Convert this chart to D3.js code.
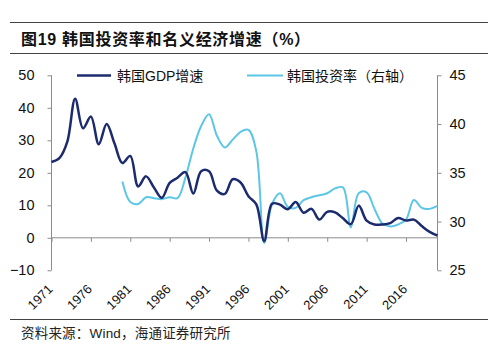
<!DOCTYPE html>
<html><head><meta charset="utf-8">
<script src="https://cdn.jsdelivr.net/npm/d3@7/dist/d3.min.js"></script>
<style>
body{margin:0;background:#fff;}
svg{display:block;}
text{font-family:"Liberation Sans",Arial,"Noto Sans CJK SC",sans-serif;}
.cjk{font-family:"Liberation Sans","Noto Sans CJK SC",sans-serif;}
</style></head>
<body>
<script>
const years = d3.range(1971, 2021);
const gdpGrowth = [23.3,24.5,29.5,42.8,33.7,37.3,28.8,35.0,29.0,23.0,
  25.2,15.8,18.9,15.5,12.3,16.9,18.5,20.2,13.6,20.5,
  20.5,14.5,13.5,18.0,17.0,12.8,10.3,-1.0,10.5,10.2,
  8.8,11.0,7.7,8.9,5.6,8.0,7.8,6.0,4.2,9.9,
  5.3,4.1,4.1,4.5,6.1,5.3,5.6,3.6,1.8,0.7];
const invYears = d3.range(1980, 2021);
const investRate = [34.1,32.0,31.8,32.5,32.4,32.3,32.5,32.4,34.5,37.5,
  39.8,41.0,38.8,37.6,38.4,39.2,39.4,37.2,27.8,31.8,
  32.9,31.5,31.4,32.2,32.5,32.7,32.9,33.4,33.5,29.4,
  32.9,33.0,31.3,29.8,29.5,29.7,30.2,32.2,31.4,31.3,31.6];
const leftTicks = [-10,0,10,20,30,40,50];
const rightTicks = [25,30,35,40,45];
const xLabelYears = [1971,1976,1981,1986,1991,1996,2001,2006,2011,2016];
const title = "图19 韩国投资率和名义经济增速（%）";
const source = "资料来源：Wind，海通证券研究所";
const seriesNames = ["韩国GDP增速","韩国投资率（右轴）"];
const colors = ["#1c2a6e","#5cc6e6"];

const W=500,H=356;
const svg = d3.select("body").append("svg").attr("width",W).attr("height",H);
const axisColor="#8c8c8c";

// title & rules
svg.append("line").attr("x1",10).attr("x2",488).attr("y1",22.5).attr("y2",22.5).attr("stroke","#444").attr("stroke-width",1.2);
svg.append("line").attr("x1",10).attr("x2",488).attr("y1",53.5).attr("y2",53.5).attr("stroke","#444").attr("stroke-width",1.2);
svg.append("text").attr("class","cjk").attr("x",21).attr("y",45).attr("font-size",16).attr("letter-spacing",0.7).attr("font-weight","bold").attr("fill","#111").text(title);
svg.append("line").attr("x1",10).attr("x2",488).attr("y1",319.5).attr("y2",319.5).attr("stroke","#444").attr("stroke-width",1.2);
svg.append("text").attr("class","cjk").attr("x",21).attr("y",338).attr("font-size",13.5).attr("letter-spacing",0.2).attr("fill","#222").text(source);

const x = d3.scalePoint().domain(years).range([51.5,437.5]);
const yL = d3.scaleLinear().domain([-10,50]).range([270.3,75.3]);
const yR = d3.scaleLinear().domain([25,45]).range([270.3,75.3]);

// left axis
const gL = svg.append("g").attr("transform","translate(51.5,0)")
  .call(d3.axisLeft(yL).tickValues(leftTicks).tickSize(4).tickPadding(13).tickFormat(d3.format("d")));
gL.selectAll("path,line").attr("stroke",axisColor);
gL.selectAll("text").attr("font-size",14.5).attr("fill","#111").attr("font-family","Liberation Sans, Arial, sans-serif");
gL.select(".domain").attr("d","M0,"+yL(-10)+"V"+yL(50));

// right axis
const gR = svg.append("g").attr("transform","translate(437.5,0)")
  .call(d3.axisRight(yR).tickValues(rightTicks).tickSize(4).tickPadding(8).tickFormat(d3.format("d")));
gR.selectAll("path,line").attr("stroke",axisColor);
gR.selectAll("text").attr("font-size",14.5).attr("fill","#111").attr("font-family","Liberation Sans, Arial, sans-serif");
gR.select(".domain").attr("d","M0,"+yR(25)+"V"+yR(45));

// x axis at 0
const gX = svg.append("g").attr("transform","translate(0,"+yL(0)+")")
  .call(d3.axisBottom(x).tickValues(xLabelYears).tickSize(4).tickFormat(""));
gX.selectAll("path,line").attr("stroke",axisColor);
gX.select(".domain").attr("d","M"+x(1971)+",0H"+x(2020));

// x labels (low position)
svg.append("g").selectAll("text").data(xLabelYears).join("text")
  .attr("transform",d=>"translate("+(x(d)+2)+",290) rotate(-45)")
  .attr("text-anchor","end").attr("font-size",13).attr("fill","#111")
  .text(d=>d);

// lines
const curve = d3.curveCatmullRom.alpha(0.5);
const lineL = d3.line().x((d,i)=>x(years[i])).y(d=>yL(d)).curve(curve);
const lineR = d3.line().x((d,i)=>x(invYears[i])).y(d=>yR(d)).curve(curve);
svg.append("path").attr("d",lineR(investRate)).attr("fill","none").attr("stroke",colors[1]).attr("stroke-width",2);
svg.append("path").attr("d",lineL(gdpGrowth)).attr("fill","none").attr("stroke",colors[0]).attr("stroke-width",2.5);

// legend
const lg = svg.append("g");
lg.append("line").attr("x1",77).attr("x2",111).attr("y1",75.5).attr("y2",75.5).attr("stroke",colors[0]).attr("stroke-width",2.5);
lg.append("text").attr("class","cjk").attr("x",117).attr("y",80.5).attr("font-size",14).attr("fill","#111").text(seriesNames[0]);
lg.append("line").attr("x1",247).attr("x2",283).attr("y1",75.5).attr("y2",75.5).attr("stroke",colors[1]).attr("stroke-width",2);
lg.append("text").attr("class","cjk").attr("x",287).attr("y",80.5).attr("font-size",14).attr("fill","#111").text(seriesNames[1]);
</script>
</body></html>
